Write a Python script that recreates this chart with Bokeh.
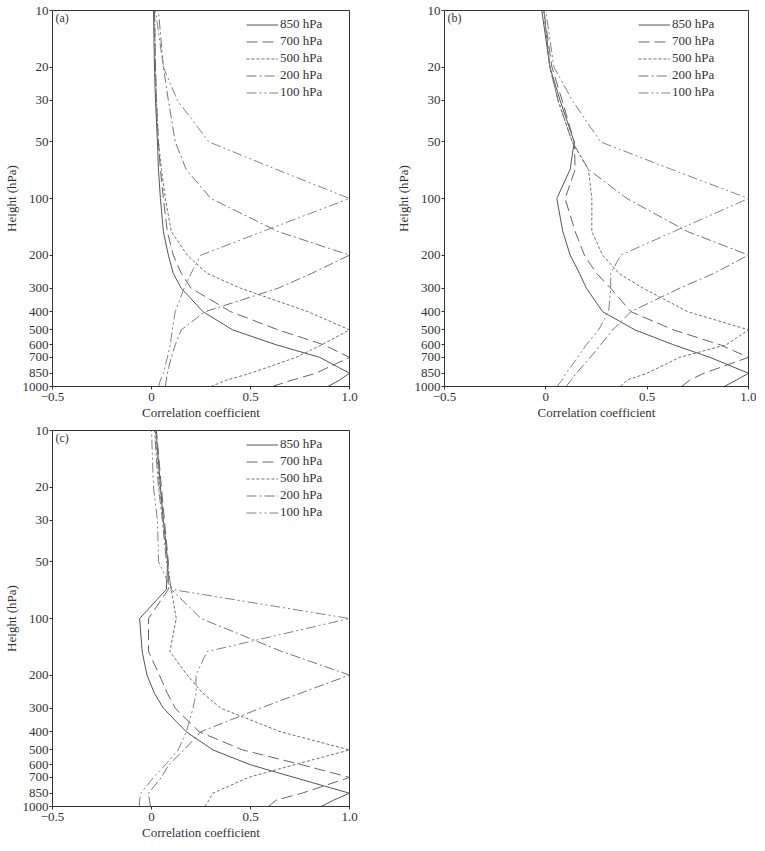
from bokeh.plotting import figure
from bokeh.models import Range1d, FixedTicker, Legend, LegendItem, Label
from bokeh.layouts import column, row
from bokeh.embed import file_html
from bokeh.resources import INLINE

# pressure levels (hPa)
levels = [1000, 925, 850, 700, 600, 500, 400, 300, 250, 200, 150, 100, 70, 50, 30, 20, 10]

# panel (a)
a_850 = [0.89, 0.95, 1.00, 0.85, 0.63, 0.41, 0.26, 0.15, 0.11, 0.085, 0.06, 0.045, 0.035, 0.03, 0.02, 0.015, 0.01]
a_700 = [0.61, 0.71, 0.83, 1.00, 0.87, 0.64, 0.40, 0.20, 0.15, 0.11, 0.08, 0.06, 0.045, 0.035, 0.025, 0.02, 0.015]
a_500 = [0.30, 0.38, 0.50, 0.73, 0.86, 1.00, 0.79, 0.45, 0.28, 0.18, 0.10, 0.07, 0.05, 0.035, 0.025, 0.02, 0.015]
a_200 = [0.07, 0.075, 0.08, 0.10, 0.12, 0.15, 0.27, 0.64, 0.81, 1.00, 0.64, 0.30, 0.175, 0.12, 0.085, 0.06, 0.035]
a_100 = [0.036, 0.045, 0.06, 0.08, 0.095, 0.105, 0.12, 0.165, 0.20, 0.25, 0.56, 1.00, 0.63, 0.29, 0.13, 0.06, 0.02]

# panel (b)
b_850 = [0.88, 0.94, 1.00, 0.81, 0.63, 0.44, 0.28, 0.20, 0.166, 0.12, 0.084, 0.054, 0.12, 0.14, 0.07, 0.02, -0.02]
b_700 = [0.67, 0.71, 0.78, 1.00, 0.86, 0.63, 0.42, 0.32, 0.25, 0.19, 0.145, 0.095, 0.145, 0.14, 0.08, 0.03, -0.01]
b_500 = [0.37, 0.40, 0.50, 0.66, 0.89, 1.00, 0.70, 0.48, 0.36, 0.28, 0.227, 0.227, 0.21, 0.13, 0.06, 0.02, -0.01]
b_200 = [0.10, 0.125, 0.15, 0.22, 0.27, 0.33, 0.42, 0.66, 0.83, 1.00, 0.70, 0.40, 0.21, 0.13, 0.06, 0.02, -0.01]
b_100 = [0.055, 0.08, 0.10, 0.157, 0.20, 0.26, 0.31, 0.32, 0.32, 0.37, 0.63, 1.00, 0.62, 0.27, 0.13, 0.04, 0.00]

# panel (c)
c_850 = [0.857, 0.92, 1.00, 0.72, 0.50, 0.31, 0.175, 0.06, 0.015, -0.023, -0.047, -0.06, 0.075, 0.082, 0.06, 0.045, 0.023]
c_700 = [0.59, 0.63, 0.76, 1.00, 0.76, 0.46, 0.24, 0.12, 0.08, 0.04, -0.015, -0.015, 0.085, 0.085, 0.065, 0.05, 0.025]
c_500 = [0.27, 0.29, 0.31, 0.49, 0.72, 1.00, 0.65, 0.35, 0.26, 0.18, 0.093, 0.125, 0.10, 0.08, 0.06, 0.04, 0.02]
c_200 = [-0.005, -0.01, -0.015, 0.05, 0.087, 0.164, 0.25, 0.55, 0.75, 1.00, 0.66, 0.25, 0.10, 0.075, 0.055, 0.035, 0.015]
c_100 = [-0.062, -0.06, -0.054, 0.01, 0.07, 0.135, 0.176, 0.21, 0.225, 0.225, 0.28, 1.00, 0.10, 0.036, 0.03, 0.01, 0.0]

series_names = ["850 hPa", "700 hPa", "500 hPa", "200 hPa", "100 hPa"]
panel_labels = ["(a)", "(b)", "(c)"]
x_ticks = [-0.5, 0, 0.5, 1]
x_tick_labels = ["\u22120.5", "0", "0.5", "1.0"]
y_ticks = [10, 20, 30, 50, 100, 200, 300, 400, 500, 600, 700, 850, 1000]
y_tick_labels = [str(t) for t in y_ticks]

line_styles = [
    ("#555555", "solid"),
    ("#666666", "11 5"),
    ("#707070", "3 2"),
    ("#757575", "10 3 2 3"),
    ("#828282", "10 3 2 3 2 3"),
]

FONT = "Liberation Serif"
TXT = "#333333"


def make_panel(series, label, width, height, left, right, top, bottom):
    p = figure(width=width, height=height, output_backend="svg", toolbar_location=None,
               y_axis_type="log", x_range=Range1d(-0.5, 1.0), y_range=Range1d(1000, 10),
               min_border_left=left, min_border_right=right,
               min_border_top=top, min_border_bottom=bottom)
    p.background_fill_color = "white"
    p.border_fill_color = "white"
    p.outline_line_color = "#333333"
    p.outline_line_width = 1
    p.grid.visible = False

    items = []
    for vals, name, (col, dash) in zip(series, series_names, line_styles):
        r = p.line(vals, levels, line_color=col, line_width=1, line_dash=dash)
        items.append(LegendItem(label=name, renderers=[r]))

    legend = Legend(items=items, location=(194, 286), orientation="vertical",
                    glyph_width=32, glyph_height=15, label_height=15, spacing=1,
                    padding=0, margin=0, label_standoff=2,
                    border_line_color=None, background_fill_alpha=0,
                    label_text_font=FONT, label_text_font_size="13px",
                    label_text_color=TXT)
    p.add_layout(legend)

    p.xaxis.ticker = FixedTicker(ticks=x_ticks)
    p.xaxis.major_label_overrides = {t: s for t, s in zip(x_ticks, x_tick_labels)}
    p.yaxis.ticker = FixedTicker(ticks=y_ticks)
    p.yaxis.major_label_overrides = {t: s for t, s in zip(y_ticks, y_tick_labels)}

    p.xaxis.axis_label = "Correlation coefficient"
    p.yaxis.axis_label = "Height (hPa)"
    for ax in (p.xaxis[0], p.yaxis[0]):
        ax.axis_line_color = "#333333"
        ax.axis_line_width = 1
        ax.major_tick_line_color = "#333333"
        ax.major_tick_out = 3
        ax.major_tick_in = 0
        ax.minor_tick_line_color = None
        ax.major_label_text_font = FONT
        ax.major_label_text_font_size = "13px"
        ax.major_label_text_color = TXT
        ax.axis_label_text_font = FONT
        ax.axis_label_text_font_size = "13px"
        ax.axis_label_text_font_style = "normal"
        ax.axis_label_text_color = TXT
    p.xaxis.major_label_standoff = 3
    p.xaxis.axis_label_standoff = 1
    p.yaxis.major_label_standoff = 1
    p.yaxis.axis_label_standoff = 1

    p.add_layout(Label(x=-0.485, y=11.0, text=label, text_font=FONT, text_font_size="12px",
                       text_color=TXT, text_align="left", text_baseline="middle"))
    return p


pa = make_panel([a_850, a_700, a_500, a_200, a_100], panel_labels[0], 392, 424, 52, 43, 10, 38)
pb = make_panel([b_850, b_700, b_500, b_200, b_100], panel_labels[1], 364, 424, 52, 8, 10, 38)
pc = make_panel([c_850, c_700, c_500, c_200, c_100], panel_labels[2], 392, 420, 52, 43, 6, 38)

layout = column(row(pa, pb), pc)
open("out.html", "w").write(file_html(layout, INLINE))
